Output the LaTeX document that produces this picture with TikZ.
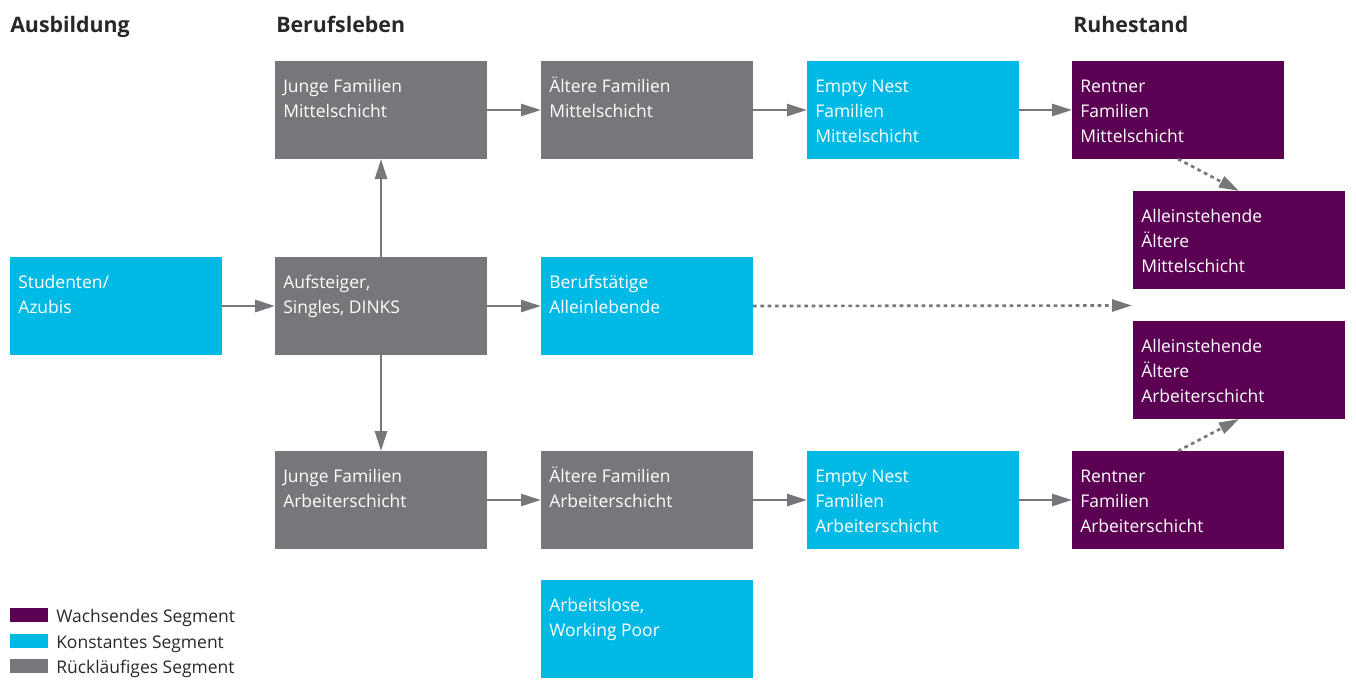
\documentclass[tikz,border=0pt]{standalone}
\usepackage{fontspec}
\setmainfont{Open Sans}
\usetikzlibrary{arrows.meta}
\definecolor{segpurple}{RGB}{91,0,82}
\definecolor{segcyan}{RGB}{0,185,228}
\definecolor{seggray}{RGB}{118,119,123}
\definecolor{textdark}{RGB}{40,40,40}
\newcommand{\segtxt}[1]{\parbox[t]{150pt}{\raggedright #1}}
\begin{document}
\begin{tikzpicture}[x=0.75pt, y=-0.75pt, font=\fontsize{13.1pt}{18.75pt}\selectfont, line join=round,
		>={Triangle[length=15pt,width=9pt]},
		seg/.style={minimum width=159pt, minimum height=73.5pt, anchor=north west, inner sep=0pt, outer sep=0pt},
		wachsend/.style={seg, fill=segpurple},
		konstant/.style={seg, fill=segcyan},
		ruecklaeufig/.style={seg, fill=seggray},
		segtext/.style={anchor=base west, inner sep=0pt, text=white, xshift=6pt, yshift=-23.6pt},
		flow/.style={->, draw=seggray, line width=2pt},
		dflow/.style={flow, dash pattern=on 2.75pt off 2.75pt},
		phase/.style={anchor=base west, inner sep=0pt, text=textdark, font=\fontsize{16pt}{19pt}\selectfont\bfseries},
		swatch/.style={minimum width=28.5pt, minimum height=10.5pt, anchor=south west, inner sep=0pt, outer sep=0pt},
		legtext/.style={anchor=base west, inner sep=0pt, text=textdark}]
	\useasboundingbox (0,0) rectangle (1356,679);
	\node[phase] (ausb) at (10,32) {Ausbildung};
	\node[phase] (beruf) at (276,32) {Berufsleben};
	\node[phase] (ruhe) at (1073,32) {Ruhestand};
	% Segmente
	\node[konstant] (stud) at (10,257) {};
	\node[ruecklaeufig] (auf) at (275,257) {};
	\node[ruecklaeufig] (jfm) at (275,61) {};
	\node[ruecklaeufig] (afm) at (541,61) {};
	\node[konstant] (enm) at (807,61) {};
	\node[wachsend] (rm) at (1072,61) {};
	\node[wachsend] (aam) at (1133,191) {};
	\node[konstant] (ba) at (541,257) {};
	\node[wachsend] (aaa) at (1133,321) {};
	\node[ruecklaeufig] (jfa) at (275,451) {};
	\node[ruecklaeufig] (afa) at (541,451) {};
	\node[konstant] (ena) at (807,451) {};
	\node[wachsend] (ra) at (1072,451) {};
	\node[konstant] (alos) at (541,580) {};
	\node[segtext] at (stud.north west) {\segtxt{Studenten/\\Azubis}};
	\node[segtext] at (auf.north west) {\segtxt{Aufsteiger,\\Singles, DINKS}};
	\node[segtext] at (jfm.north west) {\segtxt{Junge Familien\\Mittelschicht}};
	\node[segtext] at (afm.north west) {\segtxt{Ältere Familien\\Mittelschicht}};
	\node[segtext] at (enm.north west) {\segtxt{Empty Nest\\Familien\\Mittelschicht}};
	\node[segtext] at (rm.north west) {\segtxt{Rentner\\Familien\\Mittelschicht}};
	\node[segtext] at (aam.north west) {\segtxt{Alleinstehende\\Ältere\\Mittelschicht}};
	\node[segtext] at (ba.north west) {\segtxt{Berufstätige\\Alleinlebende}};
	\node[segtext] at (aaa.north west) {\segtxt{Alleinstehende\\Ältere\\Arbeiterschicht}};
	\node[segtext] at (jfa.north west) {\segtxt{Junge Familien\\Arbeiterschicht}};
	\node[segtext] at (afa.north west) {\segtxt{Ältere Familien\\Arbeiterschicht}};
	\node[segtext] at (ena.north west) {\segtxt{Empty Nest\\Familien\\Arbeiterschicht}};
	\node[segtext] at (ra.north west) {\segtxt{Rentner\\Familien\\Arbeiterschicht}};
	\node[segtext] at (alos.north west) {\segtxt{Arbeitslose,\\Working Poor}};
	\coordinate (ziel) at (1132,305.5);
	% Pfeile
	\draw[flow] (stud) -- (auf);
	\draw[flow] (auf) -- (ba);
	\draw[flow] (auf.north) -- (jfm.south);
	\draw[flow] (auf.south) -- (jfa.north);
	\draw[flow] (jfm) -- (afm);
	\draw[flow] (afm) -- (enm);
	\draw[flow] (enm) -- (rm);
	\draw[flow] (jfa) -- (afa);
	\draw[flow] (afa) -- (ena);
	\draw[flow] (ena) -- (ra);
	\draw[dflow] (rm.south) -- (aam.north);
	\draw[dflow] (ra.north) -- (aaa.south);
	\draw[dflow] (ba.east) -- (ziel);
	% Legende
	\node[swatch, fill=segpurple] (lw) at (10,622) {};
	\node[swatch, fill=segcyan] (lk) at (10,648) {};
	\node[swatch, fill=seggray] (lr) at (10,673) {};
	\node[legtext] at (56,622) {Wachsendes Segment};
	\node[legtext] at (56,648) {Konstantes Segment};
	\node[legtext] at (56,673) {Rückläufiges Segment};
\end{tikzpicture}
\end{document}
